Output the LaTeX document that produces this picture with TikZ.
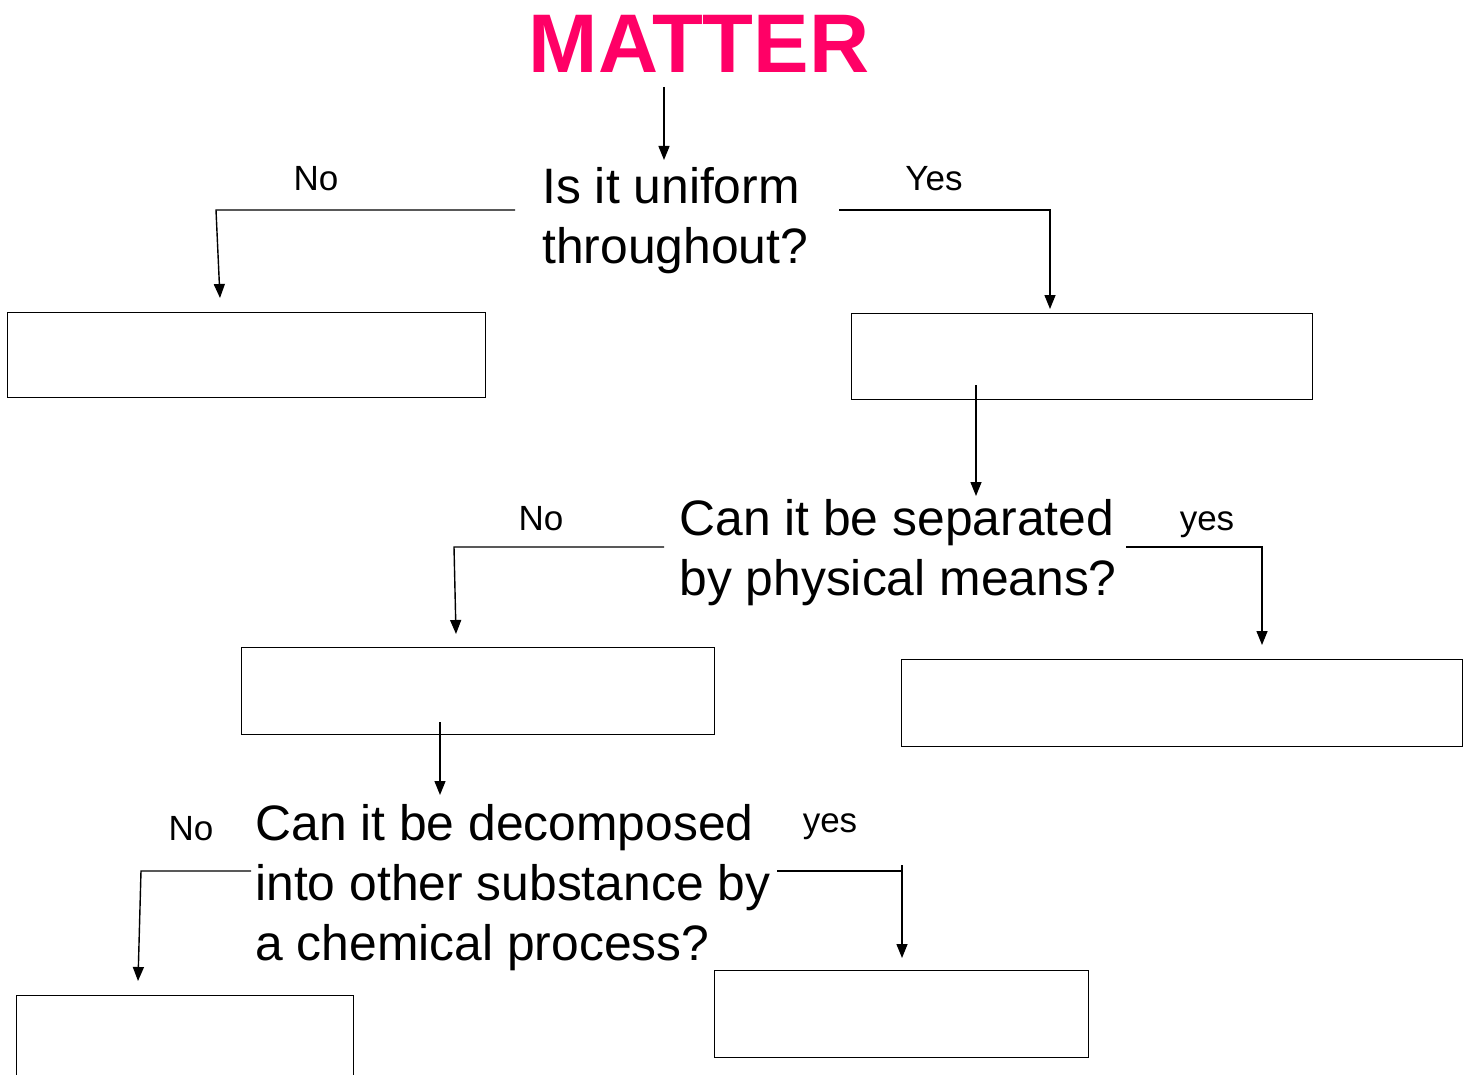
\documentclass[tikz,border=0pt]{standalone}
\usepackage{fontspec}
\setmainfont{Liberation Sans}
\usetikzlibrary{arrows.meta, positioning, calc}
\definecolor{MatterPink}{RGB}{255, 0, 102}

\tikzset{
  box/.style={draw, line width=0.9pt, inner sep=0pt, anchor=north west},
  question/.style={inner sep=0pt, anchor=north west, align=left,
    font=\fontsize{24.9}{30}\selectfont},
  answer/.style={inner sep=0pt, anchor=base, font=\fontsize{17.5}{21}\selectfont},
  arr/.style={line width=0.7pt, -{Triangle[width=5.5pt, length=7pt]}},
  link/.style={line width=0.7pt}
}

\begin{document}
\begin{tikzpicture}[x=0.5pt, y=-0.5pt]
  \useasboundingbox (0,0) rectangle (1471,1075);

  % title and questions
  \node[inner sep=0pt, anchor=base, text=MatterPink,
    font=\fontsize{41.6}{50}\selectfont\bfseries] (matter) at (699,73) {MATTER};
  \node[question] (uniform) at (542,167) {Is it uniform\\throughout?};
  \node[question] (physical) at (679,499) {Can it be separated\\by physical means?};
  \node[question] (chemical) at (255,804) {Can it be decomposed\\into other substance by\\a chemical process?};

  % empty answer boxes
  \node[box, minimum width=239pt, minimum height=42.5pt] (boxA) at (6.5,311.5) {};
  \node[box, minimum width=230.5pt, minimum height=43pt] (boxB) at (850.5,312.5) {};
  \node[box, minimum width=236.5pt, minimum height=43.5pt] (boxC) at (240.5,646.5) {};
  \node[box, minimum width=280.5pt, minimum height=43.5pt] (boxD) at (900.5,658.5) {};
  \node[box, minimum width=168.5pt, minimum height=45pt] (boxE) at (15.5,994.5) {};
  \node[box, minimum width=187pt, minimum height=43.5pt] (boxF) at (713.5,969.5) {};

  % yes / no labels
  \node[answer] (noA) at (316,191) {No};
  \node[answer] (yesA) at (934,191) {Yes};
  \node[answer] (noB) at (541,530) {No};
  \node[answer] (yesB) at (1207,530) {yes};
  \node[answer] (noC) at (191,840) {No};
  \node[answer] (yesC) at (830,832) {yes};

  % turning points of the connectors
  \coordinate (top0) at (664,87);    \coordinate (top1) at (664,160);
  \coordinate (noA0) at (515,210);   \coordinate (noA1) at (216,210);
  \coordinate (noA2) at (220,298);
  \coordinate (yesA0) at (839,210);  \coordinate (yesA1) at (1050,309);
  \coordinate (midB0) at (976,385);  \coordinate (midB1) at (976,496);
  \coordinate (noB0) at (664,547);   \coordinate (noB1) at (454,547);
  \coordinate (noB2) at (456,634);
  \coordinate (yesB0) at (1126,547); \coordinate (yesB1) at (1262,645);
  \coordinate (midC0) at (440,722);  \coordinate (midC1) at (440,795);
  \coordinate (noC0) at (251,871);   \coordinate (noC1) at (141,871);
  \coordinate (noC2) at (138,981);
  \coordinate (yesC0) at (777,871);  \coordinate (yesC1) at (902,871);
  \coordinate (yesC2) at (902,865);  \coordinate (yesC3) at (902,958);

  % connectors
  \draw[arr] (top0) -- (top1);
  \draw[arr] (noA0) -- (noA1) -- (noA2);
  \draw[arr] (yesA0) -| (yesA1);
  \draw[arr] (midB0) -- (midB1);
  \draw[arr] (noB0) -- (noB1) -- (noB2);
  \draw[arr] (yesB0) -| (yesB1);
  \draw[arr] (midC0) -- (midC1);
  \draw[arr] (noC0) -- (noC1) -- (noC2);
  \draw[link] (yesC0) -- (yesC1);
  \draw[arr] (yesC2) -- (yesC3);
\end{tikzpicture}
\end{document}
